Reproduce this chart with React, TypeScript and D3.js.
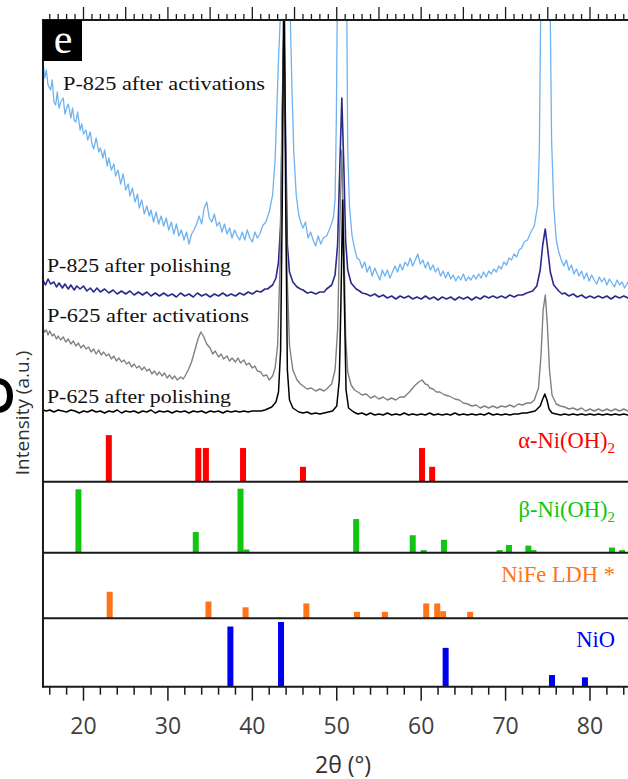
import React from "react";
import * as d3 from "d3";

// ---- Data: XRD patterns (2θ in degrees, intensity in a.u. incl. stacking offset) ----
const p825Activations: [number, number][] = [
  [15.2,360],[15.4,342],[15.6,350],[15.8,335],[16.1,330],[16.3,340],[16.5,318],[16.7,315],[16.9,328],[17.1,312],
  [17.3,318],[17.6,322],[17.8,306],[18.0,312],[18.2,316],[18.5,302],[18.7,312],[18.9,300],[19.1,298],[19.3,308],
  [19.6,290],[19.8,296],[20.0,286],[20.3,290],[20.5,280],[20.8,288],[21.0,276],[21.2,271],[21.5,282],[21.8,268],
  [22.0,272],[22.3,262],[22.5,270],[22.8,254],[23.0,262],[23.3,250],[23.6,256],[23.8,244],[24.1,250],[24.4,236],
  [24.7,246],[25.0,230],[25.3,236],[25.5,224],[25.8,232],[26.1,218],[26.4,226],[26.6,212],[26.9,220],[27.2,206],
  [27.5,214],[27.8,204],[28.0,210],[28.3,198],[28.6,208],[28.9,196],[29.2,204],[29.5,194],[29.8,202],[30.1,190],
  [30.4,198],[30.7,186],[31.0,196],[31.3,184],[31.6,190],[31.9,180],[32.2,188],[32.5,176],[32.8,186],[33.1,190],
  [33.4,196],[33.7,204],[34.0,196],[34.3,212],[34.6,218],[34.9,202],[35.2,198],[35.5,206],[35.8,194],[36.1,198],
  [36.4,188],[36.7,196],[37.0,186],[37.3,192],[37.6,182],[37.9,190],[38.2,184],[38.5,180],[38.8,188],[39.1,180],
  [39.4,190],[39.7,182],[40.0,178],[40.3,188],[40.6,182],[40.9,186],[41.2,194],[41.6,198],[42.0,208],[42.4,225],
  [42.7,260],[42.9,310],[43.1,360],[43.3,400],[43.5,470],[44.3,470],[44.5,400],[44.7,330],[44.9,270],[45.2,225],
  [45.5,205],[45.8,196],[46.0,192],[46.3,198],[46.6,182],[46.9,188],[47.2,180],[47.5,174],[47.8,184],[48.1,176],
  [48.4,182],[48.8,184],[49.2,192],[49.6,202],[49.8,220],[49.95,300],[50.05,400],[50.2,470],[51.0,470],[51.2,400],
  [51.3,270],[51.5,215],[51.8,185],[52.1,172],[52.4,162],[52.7,160],[53.0,152],[53.3,158],[53.6,148],[53.9,154],
  [54.2,144],[54.5,152],[54.8,146],[55.1,140],[55.4,150],[55.7,144],[56.0,150],[56.3,142],[56.6,148],[56.9,154],
  [57.2,148],[57.5,156],[57.8,150],[58.1,158],[58.4,154],[58.7,162],[59.0,154],[59.3,160],[59.6,166],[59.9,156],
  [60.2,160],[60.5,152],[60.8,158],[61.1,150],[61.4,155],[61.7,148],[62.0,152],[62.3,144],[62.6,149],[62.9,142],
  [63.2,148],[63.5,141],[63.8,145],[64.1,139],[64.4,144],[64.7,140],[65.0,146],[65.3,139],[65.6,143],[65.9,140],
  [66.2,145],[66.5,141],[66.8,146],[67.1,142],[67.4,148],[67.7,143],[68.0,149],[68.3,146],[68.6,151],[68.9,148],
  [69.2,154],[69.5,151],[69.8,158],[70.1,155],[70.4,162],[70.7,160],[71.0,166],[71.3,163],[71.6,170],[71.9,172],
  [72.2,178],[72.6,180],[73.0,188],[73.4,194],[73.8,215],[74.0,270],[74.15,400],[74.3,470],[75.1,470],[75.3,400],
  [75.45,280],[75.7,215],[76.0,180],[76.3,168],[76.6,160],[76.9,154],[77.2,160],[77.5,150],[77.8,155],[78.1,146],
  [78.4,151],[78.7,144],[79.0,149],[79.3,141],[79.6,147],[79.9,139],[80.2,145],[80.5,140],[80.8,136],[81.1,143],
  [81.4,138],[81.7,142],[82.0,135],[82.3,141],[82.6,137],[82.9,133],[83.2,140],[83.5,135],[83.8,138],[84.1,132],
  [84.5,138],[85.6,134]
];

const p825Polishing: [number, number][] = [
  [15.2,140],[15.5,135],[15.8,141],[16.1,136],[16.5,138],[16.8,133],[17.1,137],[17.5,132],[17.8,136],[18.2,131],
  [18.5,135],[18.9,130],[19.2,134],[19.6,131],[20.0,134],[20.4,129],[20.8,132],[21.2,128],[21.6,132],[22.0,128],
  [22.5,131],[23.0,127],[23.5,130],[24.0,126],[24.5,129],[25.0,126],[25.5,129],[26.0,125],[26.5,128],[27.0,125],
  [27.5,128],[28.0,124],[28.5,127],[29.0,124],[29.5,127],[30.0,124],[30.5,126],[31.0,123],[31.5,127],[32.0,124],
  [32.5,126],[33.0,123],[33.5,127],[34.0,124],[34.5,126],[35.0,123],[35.5,126],[36.0,124],[36.5,127],[37.0,124],
  [37.5,126],[38.0,124],[38.5,127],[39.0,125],[39.5,128],[40.0,126],[40.5,129],[41.0,128],[41.5,131],[41.8,131],
  [42.4,135],[42.8,142],[43.1,158],[43.35,195],[43.55,300],[43.75,390],[43.95,280],[44.15,175],[44.4,148],[44.8,138],
  [45.3,133],[45.7,131],[46.0,130],[46.5,127],[47.0,128],[47.5,126],[48.0,128],[48.5,128],[48.8,131],[49.4,135],
  [49.8,145],[50.1,175],[50.35,250],[50.6,322],[50.85,250],[51.05,180],[51.3,150],[51.7,137],[52.3,131],[52.7,129],
  [53.0,127],[53.5,126],[54.0,124],[54.5,126],[55.0,123],[55.5,125],[56.0,122],[56.5,124],[57.0,121],[57.5,124],
  [58.0,122],[58.5,124],[59.0,121],[59.5,123],[60.0,121],[60.5,124],[61.0,121],[61.5,123],[62.0,120],[62.5,123],
  [63.0,121],[63.5,123],[64.0,120],[64.5,123],[65.0,121],[65.5,123],[66.0,120],[66.5,123],[67.0,121],[67.5,124],
  [68.0,122],[68.5,124],[69.0,122],[69.5,124],[70.0,122],[70.5,125],[71.0,123],[71.5,125],[72.0,125],[72.5,127],
  [73.2,129],[73.7,134],[74.1,150],[74.4,175],[74.7,191],[75.0,170],[75.3,148],[75.7,135],[76.3,129],[76.7,126],
  [77.0,127],[77.5,124],[78.0,126],[78.5,123],[79.0,125],[79.5,122],[80.0,124],[80.5,122],[81.0,124],[81.5,122],
  [82.0,124],[82.5,121],[83.0,124],[83.5,122],[84.0,124],[84.5,122],[85.6,123]
];

const p625Activations: [number, number][] = [
  [15.2,92],[15.4,88],[15.6,90],[15.8,85],[16.0,89],[16.3,84],[16.5,86],[16.8,81],[17.0,84],[17.3,80],
  [17.6,83],[17.9,78],[18.2,81],[18.5,76],[18.8,79],[19.1,74],[19.4,77],[19.7,72],[20.0,75],[20.3,71],
  [20.6,73],[20.9,68],[21.2,71],[21.5,66],[21.8,70],[22.1,65],[22.4,68],[22.7,64],[23.0,66],[23.3,61],
  [23.6,64],[23.9,59],[24.2,62],[24.5,58],[24.8,60],[25.1,56],[25.4,58],[25.7,53],[26.0,56],[26.3,52],
  [26.6,54],[26.9,50],[27.2,53],[27.5,49],[27.8,51],[28.1,46],[28.4,49],[28.7,45],[29.0,48],[29.3,44],
  [29.6,47],[29.9,42],[30.2,45],[30.5,41],[30.8,44],[31.1,40],[31.5,43],[31.8,41],[32.1,45],[32.4,50],
  [32.8,58],[33.2,70],[33.6,82],[33.9,88],[34.2,84],[34.6,76],[35.0,72],[35.3,66],[35.6,69],[36.0,63],
  [36.3,66],[36.6,61],[37.0,64],[37.3,59],[37.6,62],[38.0,58],[38.3,62],[38.6,57],[39.0,60],[39.3,55],
  [39.6,57],[40.0,52],[40.3,54],[40.6,49],[41.0,48],[41.3,44],[41.7,45],[42.0,40],[42.4,44],[42.7,52],
  [43.0,75],[43.3,160],[43.5,300],[43.7,380],[43.9,290],[44.1,150],[44.4,75],[44.8,50],[45.3,40],[45.7,36],
  [46.0,34],[46.5,31],[47.0,32],[47.5,29],[48.0,31],[48.5,29],[48.8,31],[49.4,36],[49.8,50],[50.1,90],
  [50.35,190],[50.6,270],[50.85,180],[51.05,85],[51.3,48],[51.7,35],[52.1,30],[52.5,28],[53.0,25],[53.5,26],
  [54.0,22],[54.5,24],[55.0,21],[55.5,23],[56.0,20],[56.5,22],[57.0,20],[57.5,23],[58.0,23],[58.6,28],
  [59.2,34],[59.7,38],[60.1,40],[60.5,36],[60.8,35],[61.0,32],[61.4,31],[61.8,28],[62.2,28],[62.8,25],
  [63.3,24],[64.0,21],[64.5,20],[65.0,17],[65.5,16],[66.0,14],[66.5,15],[67.0,12],[67.5,14],[68.0,12],
  [68.5,14],[69.0,12],[69.5,14],[70.0,13],[70.5,15],[71.0,13],[71.5,16],[72.0,15],[72.5,17],[73.0,17],
  [73.4,20],[73.9,32],[74.2,65],[74.45,110],[74.7,125],[74.95,95],[75.2,50],[75.5,25],[76.0,16],[76.5,14],
  [77.0,13],[77.5,11],[78.0,12],[78.5,10],[79.0,12],[79.5,9],[80.0,11],[80.5,9],[81.0,11],[81.5,9],
  [82.0,11],[82.5,9],[83.0,11],[83.5,9],[84.0,11],[84.5,9],[85.6,10]
];

const p625Polishing: [number, number][] = [
  [15.2,10],[15.6,9],[16,10],[16.5,8],[17,10],[17.5,9],[18,8],[18.5,10],[19,9],[19.5,7],[20,9],[20.5,8],
  [21,10],[21.5,8],[22,9],[22.5,7],[23,9],[23.5,8],[24,10],[24.5,7],[25,9],[25.5,8],[26,9],[26.5,7],[27,9],
  [27.5,8],[28,10],[28.5,7],[29,9],[29.5,8],[30,9],[30.5,7],[31,9],[31.5,8],[32,9],[32.5,7],[33,9],[33.5,8],
  [34,9],[34.5,7],[35,9],[35.5,8],[36,9],[36.5,7],[37,9],[37.5,8],[38,9],[38.5,8],[39,9],[39.5,8],[40,9],
  [41.0,9],[41.5,10],[42.3,13],[42.8,18],[43.1,28],[43.35,70],[43.55,220],[43.75,480],[43.95,220],
  [44.15,50],[44.4,20],[44.8,12],[45.5,8],[46.0,7],[46.5,8],[47.0,6],[47.5,7],[48.0,6],[48.5,7],[49.0,8],[49.5,9],
  [50.0,14],[50.3,40],[50.5,120],[50.7,220],[50.9,120],[51.1,30],[51.4,12],[52.0,8],[52.5,6],[53,7],[53.5,5],
  [54,7],[54.5,5],[55,6],[55.5,5],[56,7],[56.5,5],[57,6],[57.5,5],[58,7],[58.5,5],[59,6],[59.5,5],[60,6],
  [60.5,5],[61,7],[61.5,5],[62,6],[62.5,5],[63,6],[63.5,5],[64,7],[64.5,5],[65,6],[65.5,5],[66,6],[66.5,5],
  [67,6],[67.5,5],[68,7],[68.5,5],[69,6],[69.5,5],[70,6],[70.5,5],[71,6],[71.5,6],[72,7],[72.5,7],[73.5,9],
  [74.1,14],[74.4,21],[74.65,26],[74.9,20],[75.15,11],[75.5,7],[76.0,6],[76.5,5],[77,6],[77.5,5],[78,6],
  [78.5,5],[79,6],[79.5,5],[80,6],[80.5,5],[81,6],[81.5,5],[82,6],[82.5,5],[83,6],[83.5,5],[84,6],[84.5,5],[85.6,6]
];

const patternLabels = ["P-825 after activations", "P-825 after polishing", "P-625 after activations", "P-625 after polishing"];

// ---- Reference stick patterns (2θ, relative intensity) ----
const alphaNiOH2: [number, number][] = [[23.0,72],[33.6,52],[34.5,52],[38.9,52],[46.0,23],[60.1,52],[61.3,23]];
const betaNiOH2: [number, number][] = [[19.4,98],[33.3,32],[38.6,99],[39.3,5],[52.3,52],[59.0,27],[60.3,4],[62.7,20],[69.3,4],[70.4,12],[72.7,11],[73.3,4],[82.6,8],[83.8,4]];
const nifeLDH: [number, number][] = [[23.1,41],[34.8,26],[39.2,17],[46.4,23],[52.4,10],[55.7,10],[60.6,23],[61.9,23],[62.6,11],[65.8,10]];
const nio: [number, number][] = [[37.4,93],[43.4,100],[62.9,60],[75.5,18],[79.4,14.5]];

const bottomTickLabels = [20, 30, 40, 50, 60, 70, 80];
const xTitle = "2θ (°)";
const yTitle = "Intensity (a.u.)";

export default function App() {
  const W = 628, H = 779;
  const x = d3.scaleLinear().domain([20, 80]).range([83.5, 590]);
  const X0 = 15.2, X1 = 85.6;
  const left = x(X0);
  const right = x(X1);
  const topY = 20;
  const yTop = d3.scaleLinear().domain([0, 400]).range([420, 20]);
  const line = d3.line<[number, number]>().x(d => x(d[0])).y(d => yTop(d[1]));

  const panels = [
    { data: alphaNiOH2, base: 481.7, color: "#ff0000", label: "α-Ni(OH)", sub: "2", ly: 448 },
    { data: betaNiOH2, base: 552.7, color: "#11c511", label: "β-Ni(OH)", sub: "2", ly: 517 },
    { data: nifeLDH, base: 618.3, color: "#ff7518", label: "NiFe LDH *", sub: "", ly: 582 },
    { data: nio, base: 686.7, color: "#0000f0", label: "NiO", sub: "", ly: 647 },
  ];

  const topTicks = d3.range(16, 86, 1);
  const bottomTicks = d3.range(16, 86, 2);
  const serif = "'Liberation Serif', 'Times New Roman', serif";
  const sans = "'Open Sans', 'DejaVu Sans', sans-serif";

  const series = [
    { d: p825Activations, c: "#6fb2f0", w: 1.3 },
    { d: p825Polishing, c: "#2a2a8c", w: 1.6 },
    { d: p625Activations, c: "#808080", w: 1.4 },
    { d: p625Polishing, c: "#000000", w: 1.5 },
  ];

  const labelPos = [
    { x: 63, y: 90, w: 202 },
    { x: 47, y: 272, w: 184 },
    { x: 47, y: 322, w: 202 },
    { x: 47, y: 403, w: 184 },
  ];

  return (
    <svg width={W} height={H} style={{ position: "absolute", left: 0, top: 0, background: "#fff" }}>
      <defs>
        <clipPath id="topclip">
          <rect x={left} y={topY + 1} width={right - left} height={410} />
        </clipPath>
      </defs>
      <rect x={0} y={0} width={W} height={H} fill="#fff" />

      {/* cropped fragment of a neighbouring panel letter */}
      <path d="M -3 381 C 7 381, 10 389, 10 396 C 10 403, 7 410, -3 410" fill="none" stroke="#000" strokeWidth={6} />

      {/* patterns */}
      <g clipPath="url(#topclip)">
        {series.map((s, i) => (
          <path key={i} d={line(s.d) || ""} fill="none" stroke={s.c} strokeWidth={s.w} strokeLinejoin="round" />
        ))}
      </g>

      {patternLabels.map((t, i) => (
        <text key={t} x={labelPos[i].x} y={labelPos[i].y} fontFamily={serif} fontSize={19.5}
          textLength={labelPos[i].w} lengthAdjust="spacingAndGlyphs" fill="#111">{t}</text>
      ))}

      {/* stick panels */}
      {panels.map((p, i) => {
        const ys = d3.scaleLinear().domain([0, 100]).range([p.base, p.base - 64.7]);
        return (
          <g key={i}>
            {p.data.map(([d, v], j) => (
              <rect key={j} x={x(d) - 3} y={ys(v)} width={6} height={p.base - ys(v)} fill={p.color} />
            ))}
            <line x1={left} x2={W} y1={p.base} y2={p.base} stroke="#1a1a1a" strokeWidth={2} />
            <text x={615} y={p.ly} textAnchor="end" fontFamily={serif} fontSize={22.5} fill={p.color}>
              {p.label}
              {p.sub ? <tspan fontSize={15} dy={5}>{p.sub}</tspan> : null}
            </text>
          </g>
        );
      })}

      {/* top axis */}
      <line x1={left} x2={W} y1={topY} y2={topY} stroke="#1a1a1a" strokeWidth={2} />
      {topTicks.map(t => (
        <line key={t} x1={x(t)} x2={x(t)} y1={topY} y2={topY - (t % 5 === 0 ? 13 : 6)} stroke="#1a1a1a" strokeWidth={1.3} />
      ))}

      {/* left frame */}
      <line x1={left} x2={left} y1={topY - 1} y2={686.7 + 1} stroke="#1a1a1a" strokeWidth={2} />

      {/* e badge */}
      <rect x={left} y={topY} width={39} height={41} fill="#000" />
      <text x={63} y={53} textAnchor="middle" fontFamily={serif} fontSize={42} fill="#fff">e</text>

      {/* bottom axis */}
      {bottomTicks.map(t => (
        <line key={t} x1={x(t)} x2={x(t)} y1={686.7} y2={686.7 + (t % 10 === 0 ? 14 : 8)} stroke="#1a1a1a" strokeWidth={1.5} />
      ))}
      {bottomTickLabels.map(t => (
        <text key={t} x={x(t)} y={734} textAnchor="middle" fontFamily={sans} fontSize={23} fill="#404040">{t}</text>
      ))}
      <text x={315} y={773} fontFamily={sans} fontSize={23} fill="#303030">{xTitle}</text>
      <text transform="translate(29,413) rotate(-90)" textAnchor="middle" fontFamily={sans} fontSize={19} fill="#303030">{yTitle}</text>
    </svg>
  );
}
